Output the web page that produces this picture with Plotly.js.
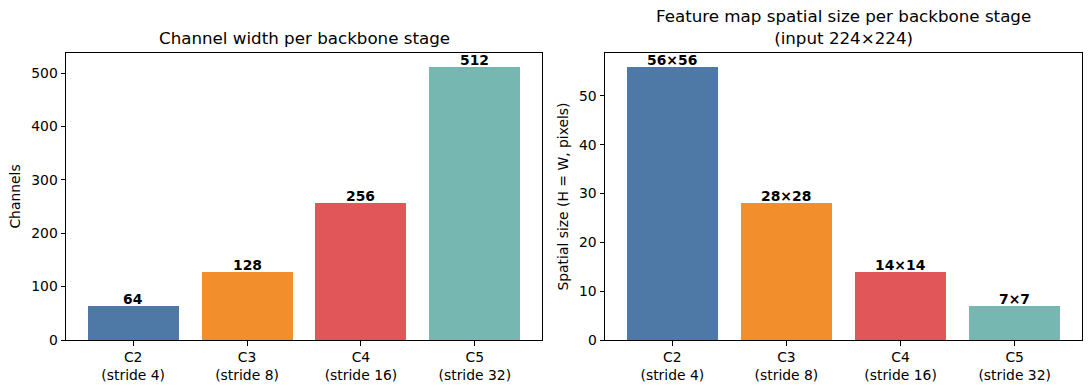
<!DOCTYPE html>
<html>
<head>
<meta charset="utf-8">
<script src="https://cdn.plot.ly/plotly-3.0.1.min.js"></script>
<style>html,body{margin:0;padding:0;background:#fff;}#chart{width:1089px;height:390px;}</style>
</head>
<body>
<div id="chart"></div>
<script>
const stages = ["C2", "C3", "C4", "C5"];
const strideLabels = ["C2<br>(stride 4)", "C3<br>(stride 8)", "C4<br>(stride 16)", "C5<br>(stride 32)"];
const channels = [64, 128, 256, 512];
const spatial = [56, 28, 14, 7];
const spatialLabels = ["56×56", "28×28", "14×14", "7×7"];
const colors = ["#4e79a7", "#f28e2b", "#e15759", "#76b7b2"];

const FONT = "DejaVu Sans, sans-serif";
const FS = 13.9;
const TFS = 16.7;
const xpos = [0, 1, 2, 3];

const traces = [
  {type: "bar", x: xpos, y: channels, width: 0.8, marker: {color: colors}, xaxis: "x", yaxis: "y", hoverinfo: "none"},
  {type: "bar", x: xpos, y: spatial, width: 0.8, marker: {color: colors}, xaxis: "x2", yaxis: "y2", hoverinfo: "none"}
];

const annotations = [];
channels.forEach((v, i) => annotations.push({
  xref: "x", yref: "y", x: xpos[i], y: v, text: "<b>" + v + "</b>", showarrow: false,
  xanchor: "center", yanchor: "bottom", yshift: -3, font: {family: FONT, size: FS, color: "#000"}
}));
spatial.forEach((v, i) => annotations.push({
  xref: "x2", yref: "y2", x: xpos[i], y: v, text: "<b>" + spatialLabels[i] + "</b>", showarrow: false,
  xanchor: "center", yanchor: "bottom", yshift: -3, font: {family: FONT, size: FS, color: "#000"}
}));
annotations.push({xref: "paper", yref: "paper", x: (66 + 542) / 2 / 1089, y: 1 - 50.5 / 390,
  xanchor: "center", yanchor: "bottom",
  text: "Channel width per backbone stage", showarrow: false, font: {family: FONT, size: TFS, color: "#000"}});
annotations.push({xref: "paper", yref: "paper", x: (605 + 1082) / 2 / 1089, y: 1 - 50.5 / 390,
  xanchor: "center", yanchor: "bottom",
  text: "Feature map spatial size per backbone stage<br>(input 224×224)", showarrow: false,
  font: {family: FONT, size: TFS, color: "#000"}});

const xaxisBase = {
  tickmode: "array", tickvals: xpos, ticktext: strideLabels, range: [-0.59, 3.59],
  showline: true, mirror: true, linecolor: "#000", linewidth: 1,
  ticks: "outside", ticklen: 4.5, tickcolor: "#000", showgrid: false, zeroline: false,
  tickfont: {family: FONT, size: FS, color: "#000"}, fixedrange: true
};
const yaxisBase = {
  showline: true, mirror: true, linecolor: "#000", linewidth: 1,
  ticks: "outside", ticklen: 4.5, tickcolor: "#000", showgrid: false, zeroline: false,
  tickfont: {family: FONT, size: FS, color: "#000"}, domain: [1 - 340 / 390, 1 - 53 / 390], fixedrange: true
};

const layout = {
  width: 1089, height: 390,
  margin: {l: 0, r: 0, t: 0, b: 0},
  paper_bgcolor: "#fff", plot_bgcolor: "#fff",
  showlegend: false, bargap: 0,
  font: {family: FONT, color: "#000"},
  xaxis: Object.assign({}, xaxisBase, {domain: [66 / 1089, 542 / 1089], anchor: "y"}),
  xaxis2: Object.assign({}, xaxisBase, {domain: [605 / 1089, 1082 / 1089], anchor: "y2"}),
  yaxis: Object.assign({}, yaxisBase, {range: [0, 537.6], dtick: 100, anchor: "x",
    title: {text: "Channels", font: {family: FONT, size: FS, color: "#000"}, standoff: 7}}),
  yaxis2: Object.assign({}, yaxisBase, {range: [0, 58.8], dtick: 10, anchor: "x2",
    title: {text: "Spatial size (H = W, pixels)", font: {family: FONT, size: FS, color: "#000"}, standoff: 7}}),
  annotations: annotations
};

Plotly.newPlot("chart", traces, layout, {displayModeBar: false, staticPlot: true});
</script>
</body>
</html>
